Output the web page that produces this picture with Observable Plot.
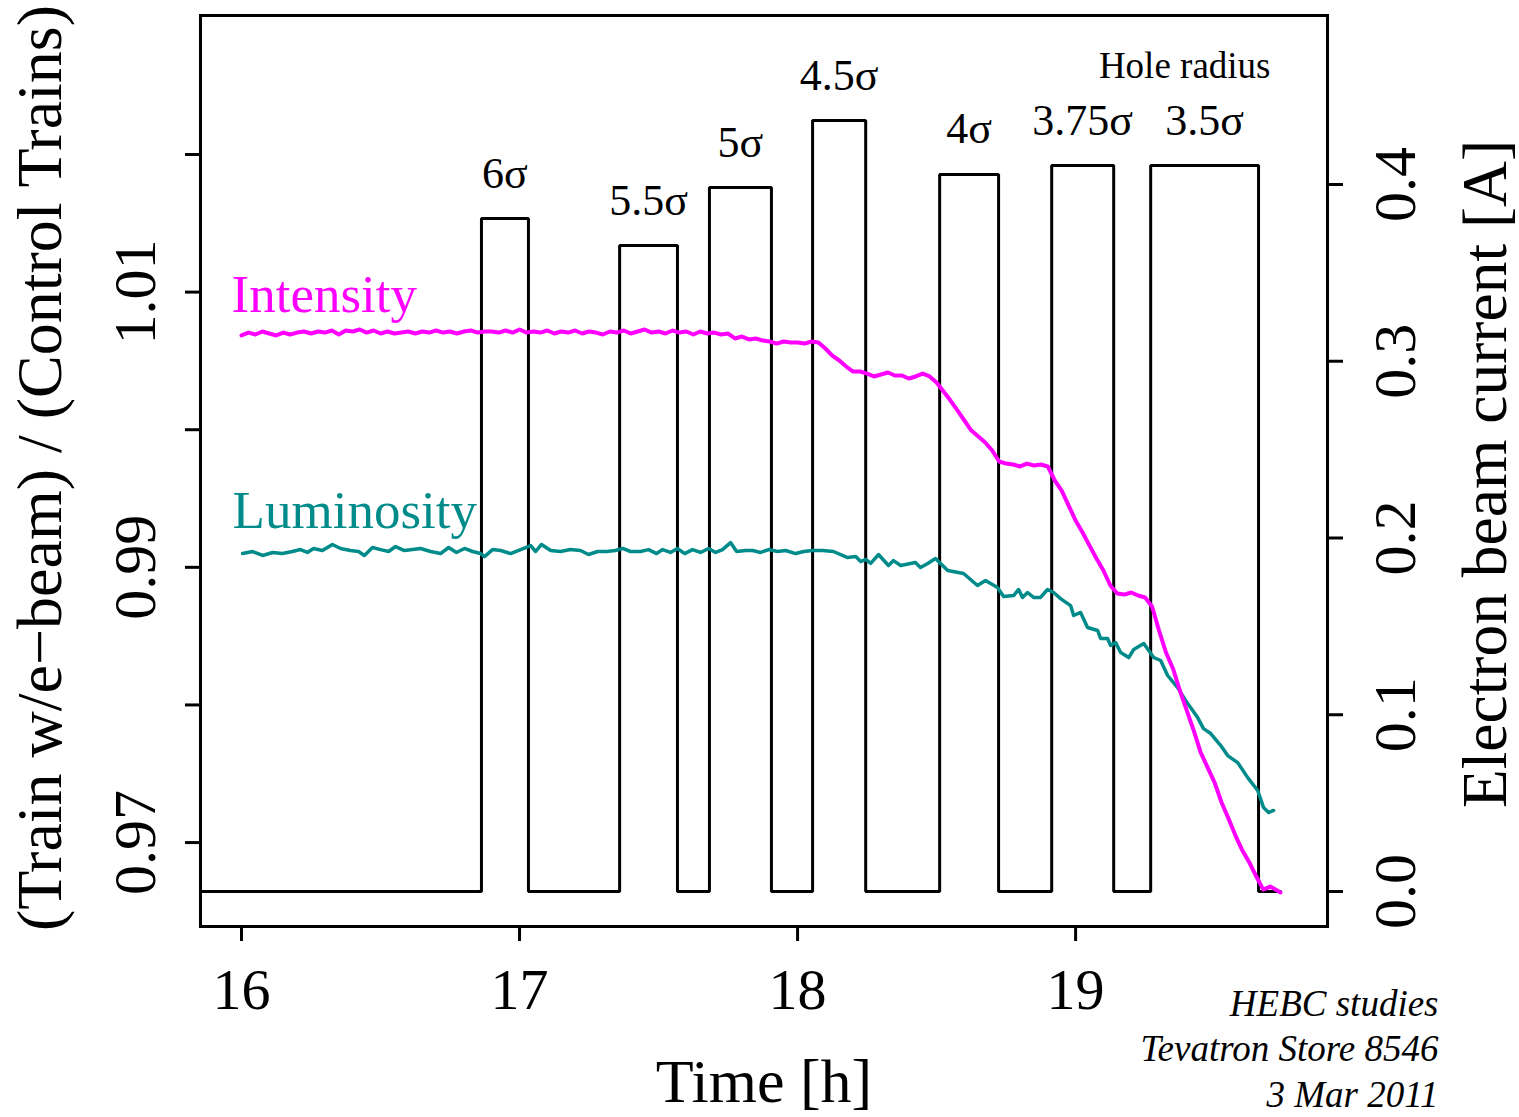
<!DOCTYPE html>
<html><head><meta charset="utf-8">
<script src="https://cdn.jsdelivr.net/npm/d3@7"></script>
<script src="https://cdn.jsdelivr.net/npm/@observablehq/plot@0.6"></script>
<style>
html,body{margin:0;padding:0;background:#fff;overflow:hidden}
#chart{position:relative;width:1519px;height:1117px}
#chart svg{position:absolute;left:0;top:0;max-width:none}
</style></head><body><div id="chart"></div>
<script>
const timeDomain = [15.8525, 19.906];
const ratioDomain = [0.9639, 1.0301];
const currentDomain = [-0.0198, 0.4956];
const xTicks = [16, 17, 18, 19];
const ratioTicks = [0.97, 0.98, 0.99, 1.00, 1.01, 1.02];
const ratioLabels = [0.97, 0.99, 1.01];
const currentTicks = [0, 0.1, 0.2, 0.3, 0.4];
const beamStart = 15.8525, beamEnd = 19.737;
const pulses = [
  {start: 16.863, end: 17.032, current: 0.3808, label: "6σ"},
  {start: 17.360, end: 17.568, current: 0.3655, label: "5.5σ"},
  {start: 17.683, end: 17.906, current: 0.3983, label: "5σ"},
  {start: 18.054, end: 18.245, current: 0.4362, label: "4.5σ"},
  {start: 18.511, end: 18.723, current: 0.4057, label: "4σ"},
  {start: 18.914, end: 19.137, current: 0.4107, label: "3.75σ"},
  {start: 19.270, end: 19.658, current: 0.4107, label: "3.5σ"}
];
const intensity = [
[16.000,1.00685],[16.025,1.00706],[16.050,1.00692],[16.075,1.00714],[16.100,1.00699],[16.125,1.00685],[16.150,1.00706],[16.175,1.00692],[16.200,1.00706],[16.225,1.00714],
[16.250,1.00699],[16.275,1.00714],[16.300,1.00706],[16.325,1.00721],[16.350,1.00692],[16.375,1.00721],[16.400,1.00714],[16.425,1.00728],[16.450,1.00706],[16.475,1.00721],
[16.500,1.00699],[16.525,1.00714],[16.550,1.00699],[16.575,1.00706],[16.600,1.00714],[16.625,1.00699],[16.650,1.00714],[16.675,1.00706],[16.700,1.00721],[16.725,1.00706],
[16.750,1.00714],[16.775,1.00699],[16.800,1.00714],[16.825,1.00721],[16.850,1.00706],[16.875,1.00714],[16.900,1.00714],[16.925,1.00706],[16.950,1.00721],[16.975,1.00706],
[17.000,1.00728],[17.025,1.00706],[17.050,1.00714],[17.075,1.00706],[17.100,1.00721],[17.125,1.00699],[17.150,1.00714],[17.175,1.00706],[17.200,1.00721],[17.225,1.00699],
[17.250,1.00714],[17.275,1.00706],[17.300,1.00692],[17.325,1.00714],[17.350,1.00706],[17.375,1.00721],[17.400,1.00699],[17.425,1.00714],[17.450,1.00728],[17.475,1.00706],
[17.500,1.00714],[17.525,1.00699],[17.550,1.00721],[17.575,1.00706],[17.600,1.00714],[17.625,1.00692],[17.650,1.00714],[17.675,1.00699],[17.700,1.00706],[17.725,1.00692],
[17.750,1.00699],[17.775,1.00663],[17.800,1.00677],[17.825,1.00656],[17.850,1.00663],[17.875,1.00648],[17.900,1.00641],[17.925,1.00626],[17.950,1.00641],[17.975,1.00634],
[18.000,1.00634],[18.025,1.00626],[18.050,1.00641],[18.075,1.00634],[18.100,1.00590],[18.125,1.00539],[18.150,1.00503],[18.175,1.00459],[18.200,1.00423],[18.225,1.00423],
[18.250,1.00408],[18.275,1.00387],[18.300,1.00401],[18.325,1.00416],[18.350,1.00394],[18.375,1.00394],[18.400,1.00372],[18.425,1.00387],[18.450,1.00408],[18.475,1.00387],
[18.500,1.00343],[18.525,1.00278],[18.550,1.00212],[18.575,1.00140],[18.600,1.00067],[18.625,0.99994],[18.650,0.99951],[18.675,0.99907],[18.700,0.99849],[18.725,0.99769],
[18.750,0.99754],[18.775,0.99747],[18.800,0.99733],[18.825,0.99754],[18.850,0.99740],[18.875,0.99747],[18.900,0.99733],[18.925,0.99631],[18.950,0.99558],[18.975,0.99449],
[19.000,0.99340],[19.025,0.99253],[19.050,0.99158],[19.075,0.99064],[19.100,0.98977],[19.125,0.98868],[19.150,0.98810],[19.175,0.98802],[19.200,0.98817],[19.225,0.98795],
[19.250,0.98781],[19.275,0.98715],[19.300,0.98541],[19.325,0.98381],[19.350,0.98265],[19.375,0.98105],[19.400,0.97959],[19.425,0.97814],[19.450,0.97654],[19.475,0.97545],
[19.500,0.97436],[19.525,0.97291],[19.550,0.97174],[19.575,0.97051],[19.600,0.96942],[19.625,0.96855],[19.650,0.96753],[19.675,0.96658],[19.700,0.96680],[19.725,0.96651],
[19.737,0.96637]
];
const luminosity = [
[16.004,0.99100],[16.040,0.99115],[16.076,0.99086],[16.112,0.99108],[16.147,0.99100],[16.183,0.99115],[16.212,0.99129],[16.237,0.99108],[16.259,0.99137],[16.291,0.99122],
[16.327,0.99166],[16.356,0.99137],[16.392,0.99122],[16.421,0.99115],[16.442,0.99086],[16.471,0.99144],[16.500,0.99129],[16.529,0.99115],[16.554,0.99151],[16.586,0.99122],
[16.615,0.99129],[16.644,0.99137],[16.680,0.99115],[16.716,0.99100],[16.745,0.99144],[16.773,0.99108],[16.802,0.99137],[16.831,0.99115],[16.860,0.99100],[16.874,0.99078],
[16.903,0.99129],[16.932,0.99122],[16.968,0.99100],[17.004,0.99129],[17.040,0.99158],[17.058,0.99115],[17.079,0.99166],[17.112,0.99122],[17.147,0.99115],[17.183,0.99129],
[17.219,0.99122],[17.248,0.99093],[17.281,0.99115],[17.313,0.99115],[17.345,0.99122],[17.371,0.99137],[17.399,0.99115],[17.435,0.99115],[17.464,0.99129],[17.493,0.99100],
[17.514,0.99129],[17.543,0.99108],[17.568,0.99137],[17.594,0.99100],[17.622,0.99129],[17.651,0.99108],[17.680,0.99137],[17.705,0.99108],[17.730,0.99129],[17.759,0.99180],
[17.781,0.99115],[17.813,0.99122],[17.838,0.99122],[17.867,0.99108],[17.896,0.99129],[17.928,0.99115],[17.957,0.99122],[17.993,0.99100],[18.022,0.99115],[18.054,0.99122],
[18.090,0.99122],[18.129,0.99115],[18.180,0.99071],[18.209,0.99078],[18.227,0.99042],[18.245,0.99057],[18.263,0.99028],[18.291,0.99093],[18.327,0.99013],[18.345,0.99049],
[18.371,0.99013],[18.424,0.99035],[18.442,0.98999],[18.468,0.99028],[18.496,0.99064],[18.540,0.98977],[18.597,0.98955],[18.647,0.98868],[18.676,0.98904],[18.719,0.98853],
[18.741,0.98788],[18.777,0.98795],[18.795,0.98839],[18.809,0.98781],[18.827,0.98817],[18.849,0.98781],[18.874,0.98781],[18.899,0.98839],[18.921,0.98817],[18.946,0.98773],
[18.982,0.98722],[18.993,0.98650],[19.018,0.98672],[19.043,0.98563],[19.079,0.98541],[19.090,0.98483],[19.115,0.98483],[19.126,0.98432],[19.144,0.98453],[19.162,0.98381],
[19.191,0.98344],[19.209,0.98403],[19.245,0.98446],[19.281,0.98344],[19.306,0.98323],[19.331,0.98214],[19.367,0.98126],[19.403,0.98010],[19.439,0.97908],[19.460,0.97828],
[19.486,0.97792],[19.522,0.97705],[19.547,0.97632],[19.583,0.97581],[19.619,0.97472],[19.655,0.97378],[19.676,0.97254],[19.694,0.97218],[19.712,0.97233]
];
const yLabel = "(Train w/e\u2212beam) / (Control Trains)";
const rightLabel = "Electron beam current [A]";
const xLabel = "Time [h]";
const holeLabel = "Hole radius";
const footnote = "HEBC studies\nTevatron Store 8546\n3 Mar 2011";

const currentSteps = [[beamStart, 0]];
for (const p of pulses) { currentSteps.push([p.start, p.current]); currentSteps.push([p.end, 0]); }
currentSteps.push([beamEnd, 0]);

const common = {
  width: 1519, height: 1117,
  marginTop: 15, marginRight: 192, marginBottom: 191, marginLeft: 200,
  x: {domain: timeDomain, axis: null}
};
const FONT = "'Liberation Serif', 'Times New Roman', serif";

const beamPlot = Plot.plot({
  ...common,
  style: {fontFamily: FONT, background: "white"},
  y: {domain: currentDomain, axis: null},
  marks: [
    Plot.line(currentSteps, {x: d => d[0], y: d => d[1], curve: "step-after", stroke: "black", strokeWidth: 3, strokeLinejoin: "miter"}),
    Plot.text(pulses, {x: d => (d.start + d.end) / 2, y: "current", text: "label", dy: -45, fontSize: 44, textAnchor: "middle", lineAnchor: "middle"}),
    Plot.text([holeLabel], {frameAnchor: "top-right", textAnchor: "end", dx: -57, dy: 51, fontSize: 37, lineAnchor: "middle"}),
    Plot.axisY(currentTicks, {anchor: "right", tickSize: 15, tickFormat: () => "", strokeWidth: 3, label: null}),
    Plot.text(currentTicks, {y: d => d, text: d => d.toFixed(1), frameAnchor: "right", dx: 68, rotate: -90, fontSize: 60, textAnchor: "middle", lineAnchor: "middle"}),
    Plot.text([rightLabel], {frameAnchor: "right", dx: 158, dy: 3, rotate: -90, fontSize: 63.5, textAnchor: "middle", lineAnchor: "middle"})
  ]
});

const ratioPlot = Plot.plot({
  ...common,
  style: {fontFamily: FONT, background: "transparent"},
  y: {domain: ratioDomain, axis: null},
  marks: [
    Plot.frame({stroke: "black", strokeWidth: 3}),
    Plot.axisX(xTicks, {anchor: "bottom", tickSize: 15, tickFormat: () => "", strokeWidth: 3, label: null}),
    Plot.text(xTicks, {x: d => d, text: d => String(d), frameAnchor: "bottom", dy: 64, fontSize: 58, textAnchor: "middle", lineAnchor: "middle"}),
    Plot.axisY(ratioTicks, {anchor: "left", tickSize: 15, tickFormat: () => "", strokeWidth: 3, label: null}),
    Plot.text(ratioLabels, {y: d => d, text: d => d.toFixed(2), frameAnchor: "left", dx: -65, rotate: -90, fontSize: 60, textAnchor: "middle", lineAnchor: "middle"}),
    Plot.line(luminosity, {x: d => d[0], y: d => d[1], stroke: "#008B8B", strokeWidth: 3.5}),
    Plot.line(intensity, {x: d => d[0], y: d => d[1], stroke: "#FF00FF", strokeWidth: 4}),
    Plot.text([intensity[0]], {x: d => d[0], y: d => d[1], text: () => "Intensity", textAnchor: "start", dx: -10, dy: -40, fill: "#FF00FF", fontSize: 53, lineAnchor: "middle"}),
    Plot.text([luminosity[0]], {x: d => d[0], y: d => d[1], text: () => "Luminosity", textAnchor: "start", dx: -10, dy: -43, fill: "#008B8B", fontSize: 53, lineAnchor: "middle"}),
    Plot.text([yLabel], {frameAnchor: "left", dx: -160, dy: -3, rotate: -90, fontSize: 64, textAnchor: "middle", lineAnchor: "middle"}),
    Plot.text([xLabel], {frameAnchor: "bottom", dy: 156, fontSize: 62, textAnchor: "middle", lineAnchor: "middle"}),
    Plot.text([footnote], {frameAnchor: "bottom-right", textAnchor: "end", dx: 111, dy: 120, fontSize: 37, fontStyle: "italic", lineHeight: 1.23, lineAnchor: "middle"})
  ]
});

const chart = document.getElementById("chart");
chart.appendChild(beamPlot);
chart.appendChild(ratioPlot);
</script></body></html>
